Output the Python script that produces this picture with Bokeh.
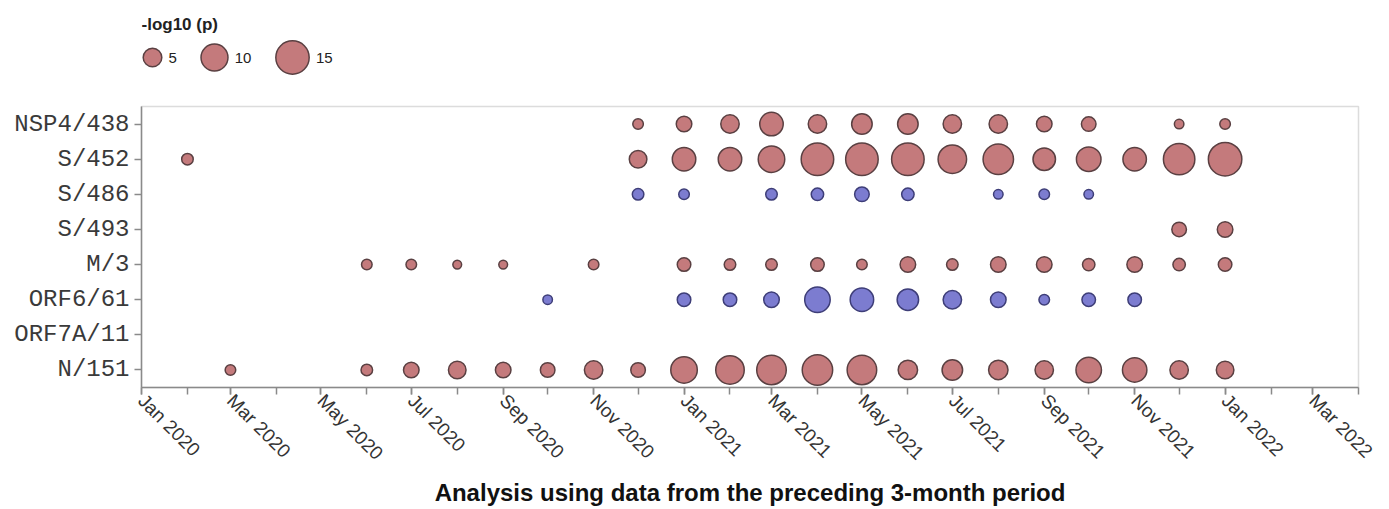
import math
from datetime import datetime
import numpy as np
import pandas as pd
from bokeh.plotting import figure
from bokeh.models import FactorRange, Range1d, FixedTicker, DatetimeTickFormatter, ColumnDataSource
from bokeh.layouts import column
from bokeh.embed import file_html
from bokeh.resources import INLINE
from bokeh.core.properties import value

# ---------------- data ----------------
categories = ["NSP4/438", "S/452", "S/486", "S/493", "M/3", "ORF6/61", "ORF7A/11", "N/151"]

nsp4_438_months = ["2020-12", "2021-01", "2021-02", "2021-03", "2021-04", "2021-05", "2021-06",
                   "2021-07", "2021-08", "2021-09", "2021-10", "2021-12", "2022-01"]
nsp4_438_values = [1.8, 3.6, 4.9, 7.7, 4.9, 6.0, 6.0, 4.9, 4.9, 3.6, 3.2, 1.5, 1.8]

s_452_months = ["2020-02", "2020-12", "2021-01", "2021-02", "2021-03", "2021-04", "2021-05", "2021-06",
                "2021-07", "2021-08", "2021-09", "2021-10", "2021-11", "2021-12", "2022-01"]
s_452_values = [2.1, 4.5, 7.7, 7.7, 9.7, 14.3, 14.3, 14.3, 11.1, 12.6, 7.1, 8.4, 7.7, 13.4, 15.1]

s_486_months = ["2020-12", "2021-01", "2021-03", "2021-04", "2021-05", "2021-06", "2021-08",
                "2021-09", "2021-10"]
s_486_values = [2.1, 1.8, 2.1, 2.4, 3.2, 2.4, 1.5, 1.8, 1.5]

s_493_months = ["2021-12", "2022-01"]
s_493_values = [3.2, 3.6]

m_3_months = ["2020-06", "2020-07", "2020-08", "2020-09", "2020-11", "2021-01", "2021-02", "2021-03",
              "2021-04", "2021-05", "2021-06", "2021-07", "2021-08", "2021-09", "2021-10", "2021-11",
              "2021-12", "2022-01"]
m_3_values = [1.8, 1.8, 1.3, 1.3, 1.8, 2.8, 2.1, 2.1, 2.8, 1.8, 3.6, 2.1, 3.6, 3.6, 2.4, 3.6, 2.4, 2.8]

orf6_61_months = ["2020-10", "2021-01", "2021-02", "2021-03", "2021-04", "2021-05", "2021-06",
                  "2021-07", "2021-08", "2021-09", "2021-10", "2021-11"]
orf6_61_values = [1.5, 2.8, 2.8, 3.6, 9.0, 7.7, 6.5, 4.9, 3.6, 1.8, 2.8, 2.8]

orf7a_11_months = []
orf7a_11_values = []

n_151_months = ["2020-03", "2020-06", "2020-07", "2020-08", "2020-09", "2020-10", "2020-11", "2020-12",
                "2021-01", "2021-02", "2021-03", "2021-04", "2021-05", "2021-06", "2021-07", "2021-08",
                "2021-09", "2021-10", "2021-11", "2021-12", "2022-01"]
n_151_values = [1.8, 2.1, 3.6, 4.5, 3.6, 3.2, 4.9, 3.2, 9.7, 11.1, 11.9, 12.6, 11.9, 5.4, 6.0, 5.4,
                4.9, 9.0, 8.3, 4.9, 4.5]

# direction of association per series: +1 drawn red, -1 drawn blue
series = [
    ("NSP4/438", nsp4_438_months, nsp4_438_values, 1),
    ("S/452", s_452_months, s_452_values, 1),
    ("S/486", s_486_months, s_486_values, -1),
    ("S/493", s_493_months, s_493_values, 1),
    ("M/3", m_3_months, m_3_values, 1),
    ("ORF6/61", orf6_61_months, orf6_61_values, -1),
    ("ORF7A/11", orf7a_11_months, orf7a_11_values, 1),
    ("N/151", n_151_months, n_151_values, 1),
]

legend_values = [5, 10, 15]
legend_title = "-log10 (p)"
x_title = "Analysis using data from the preceding 3-month period"

major_tick_months = ["2020-01", "2020-03", "2020-05", "2020-07", "2020-09", "2020-11",
                     "2021-01", "2021-03", "2021-05", "2021-07", "2021-09", "2021-11",
                     "2022-01", "2022-03"]
x_start, x_end = "2020-01", "2022-04"

# ---------------- style ----------------
RED_FILL, RED_LINE = "#c47a7c", "#5a4042"
BLUE_FILL, BLUE_LINE = "#7c7cd0", "#3e3e78"
K = 9.0
LW = 1.5
AXIS_COL = "#8a8a8a"


def sizes_of(vals):
    return list(K * np.sqrt(np.asarray(vals, dtype=float)) - LW)


W, H = 1389, 509
LEG_H = 96
MAIN_H = H - LEG_H
FL, FR = 141, 31  # frame borders (left, right)

# ---------------- legend figure (frame aligned with main frame; data units = pixels) ----------------
leg = figure(width=W, height=LEG_H, x_range=Range1d(FL, W - FR), y_range=Range1d(0, LEG_H),
             toolbar_location=None, output_backend="svg",
             min_border_left=FL, min_border_right=FR, min_border_top=0, min_border_bottom=0)
leg.axis.visible = False
leg.grid.visible = False
leg.outline_line_color = None
leg_x = [152, 214, 292]
leg_y = [39] * 3
leg.scatter(x=leg_x, y=leg_y, size=sizes_of(legend_values), fill_color=RED_FILL,
            line_color=RED_LINE, line_width=LW)
leg.text(x=[xx + K * math.sqrt(v) / 2 + 6 for xx, v in zip(leg_x, legend_values)], y=leg_y,
         text=[str(v) for v in legend_values], text_font=value("Liberation Sans"),
         text_font_size="15px", text_baseline="middle", text_align="left", text_color="#222222")
leg.text(x=[FL], y=[LEG_H - 14], text=[legend_title], text_font=value("Liberation Sans"),
         text_font_size="17px", text_font_style="bold", text_baseline="top", text_color="#222222")

# ---------------- main figure ----------------
x0 = pd.Timestamp(x_start + "-01")
x1 = pd.Timestamp(x_end + "-01")
p = figure(width=W, height=MAIN_H, x_axis_type="datetime",
           x_range=Range1d(x0, x1), y_range=FactorRange(factors=list(reversed(categories))),
           toolbar_location=None, output_backend="svg",
           min_border_left=FL, min_border_right=FR, min_border_top=10, min_border_bottom=120)
p.grid.visible = False
p.outline_line_color = "#dcdcdc"
p.outline_line_width = 1.5

for name, months, vals, direction in series:
    if not months:
        continue
    src = ColumnDataSource(dict(
        x=pd.to_datetime([m + "-01" for m in months]),
        y=[name] * len(months),
        s=sizes_of(vals),
    ))
    fill, line = (RED_FILL, RED_LINE) if direction > 0 else (BLUE_FILL, BLUE_LINE)
    p.scatter(x="x", y="y", size="s", source=src, fill_color=fill, line_color=line, line_width=LW)

major = [pd.Timestamp(m + "-01").value / 1e6 for m in major_tick_months]
minor = [t.value / 1e6 for t in pd.date_range(x0, x1, freq="MS")]
xa = p.xaxis[0]
xa.ticker = FixedTicker(ticks=major, minor_ticks=minor)
xa.formatter = DatetimeTickFormatter(days="%b %Y", months="%b %Y", years="%b %Y")
xa.major_label_orientation = -math.pi / 4
xa.major_label_text_font = "Liberation Sans"
xa.major_label_text_font_size = "19px"
xa.major_label_text_color = "#333333"
xa.major_label_standoff = 3
xa.axis_label = x_title
xa.axis_label_text_font = "Liberation Sans"
xa.axis_label_text_font_size = "24px"
xa.axis_label_text_font_style = "bold"
xa.axis_label_text_color = "#111111"
xa.axis_label_standoff = 5

ya = p.yaxis[0]
ya.major_label_text_font = "Liberation Mono"
ya.major_label_text_font_size = "24px"
ya.major_label_text_color = "#3a3a3a"
ya.major_label_standoff = 5

for ax in (xa, ya):
    ax.axis_line_color = AXIS_COL
    ax.axis_line_width = 1.5
    ax.major_tick_line_color = AXIS_COL
    ax.major_tick_line_width = 1.5
    ax.minor_tick_line_color = AXIS_COL
    ax.minor_tick_line_width = 1.5
    ax.major_tick_out = 7
    ax.major_tick_in = 0
    ax.minor_tick_out = 7
    ax.minor_tick_in = 0

layout = column(leg, p, spacing=0)
open("out.html", "w").write(file_html(layout, INLINE))
